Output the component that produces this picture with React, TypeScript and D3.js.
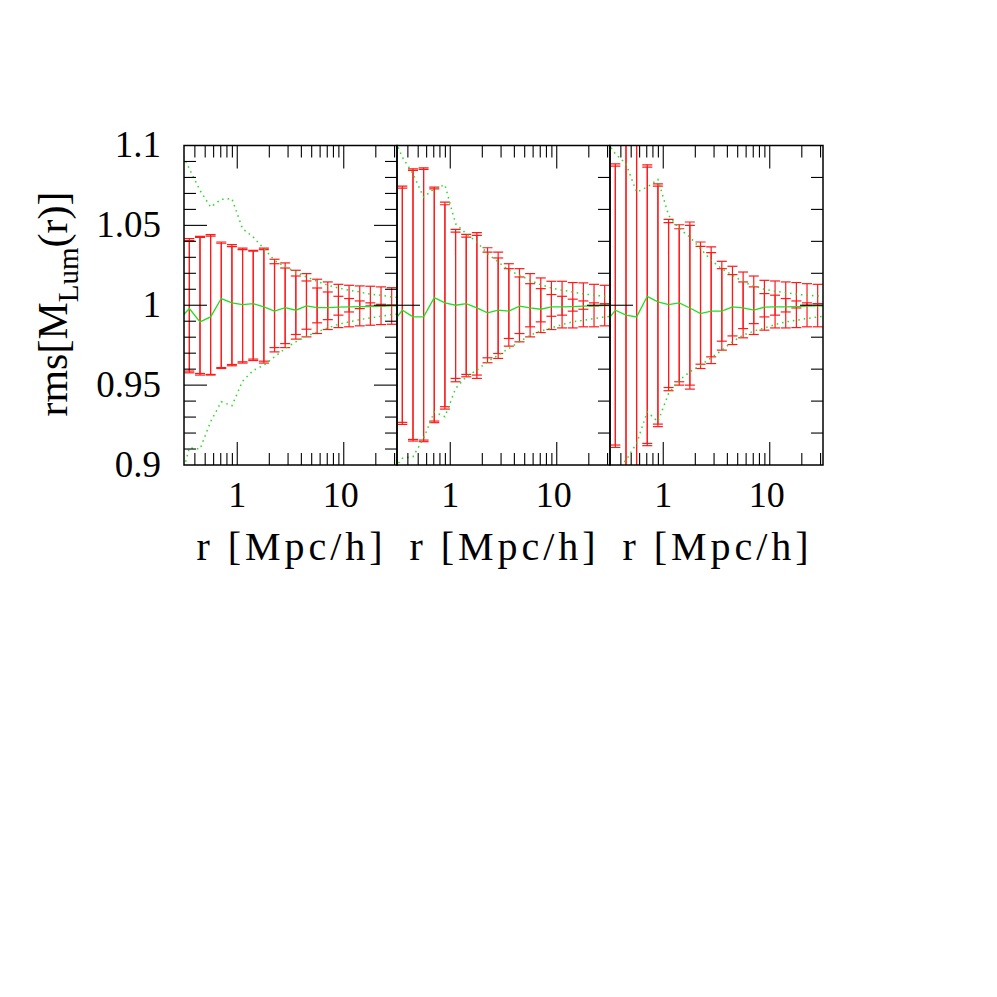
import React from "react";
import * as d3 from "d3";

// radial bins (Mpc/h)
const rBins = [0.355, 0.447, 0.562, 0.708, 0.891, 1.122, 1.413, 1.778, 2.239, 2.818, 3.548, 4.467, 5.623, 7.079, 8.913, 11.22, 14.13, 17.78, 22.39, 28.18];
const rCurve = [0.282, 0.355, 0.447, 0.562, 0.708, 0.891, 1.122, 1.413, 1.778, 2.239, 2.818, 3.548, 4.467, 5.623, 7.079, 8.913, 11.22, 14.13, 17.78, 22.39, 28.18, 35.48];

// ticks
const xMajorTicks = [1, 10];
const xMinorTicks = [0.4, 0.5, 0.6, 0.7, 0.8, 0.9, 2, 3, 4, 5, 6, 7, 8, 9, 20, 30];
const xTickLabels = ["1", "10"];
const yTickValues = [1.1, 1.05, 1, 0.95, 0.9];
const yTickLabels = ["1.1", "1.05", "1", "0.95", "0.9"];
const yMajorTicksA = [0.95, 1, 1.05];
const yMinorTicksA = [0.91, 0.92, 0.93, 0.94, 0.96, 0.97, 0.98, 0.99, 1.01, 1.02, 1.03, 1.04, 1.06, 1.07, 1.08, 1.09];
const yMajorTicksB = [1];
const yMinorTicksB = [0.92, 0.94, 0.96, 0.98, 1.02, 1.04, 1.06, 1.08];

// panel 1
const p1Mean = [0.9908, 0.9979, 0.9896, 0.9927, 1.0042, 1.0015, 1.0004, 1.001, 0.999, 0.9963, 0.9985, 0.9969, 0.9996, 0.9985, 0.9985, 0.9988, 0.999, 0.9992, 0.9992, 0.9994, 0.9996, 0.9996];
const p1DotHi = [1.0994, 1.0854, 1.0719, 1.0615, 1.0663, 1.0667, 1.0479, 1.0427, 1.0354, 1.0281, 1.024, 1.0208, 1.0177, 1.015, 1.0125, 1.0108, 1.0094, 1.0083, 1.0069, 1.0063, 1.0052, 1.0046];
const p1DotLo = [0.8854, 0.9108, 0.91, 0.9271, 0.9396, 0.9371, 0.9525, 0.9592, 0.9625, 0.9677, 0.9729, 0.9771, 0.9806, 0.9833, 0.9858, 0.9881, 0.9896, 0.991, 0.9921, 0.9931, 0.9942, 0.9948];
const p1OuterHi = [1.0417, 1.0431, 1.0442, 1.0396, 1.0379, 1.0358, 1.0344, 1.0358, 1.0288, 1.0265, 1.0219, 1.0198, 1.0163, 1.0146, 1.0131, 1.0125, 1.0121, 1.0119, 1.0115, 1.011];
const p1InnerHi = [1.0404, 1.0425, 1.0433, 1.0388, 1.0367, 1.0348, 1.0338, 1.0348, 1.026, 1.0233, 1.0183, 1.0152, 1.0108, 1.0083, 1.0056, 1.0042, 1.0027, 1.0015, 1.0006, 1.0];
const p1OuterLo = [0.9577, 0.9563, 0.9563, 0.9604, 0.9621, 0.9638, 0.9654, 0.9638, 0.9708, 0.9735, 0.9788, 0.9802, 0.9823, 0.9848, 0.986, 0.9865, 0.9871, 0.9875, 0.9879, 0.9881];
const p1InnerLo = [0.9588, 0.9573, 0.9567, 0.961, 0.9629, 0.9646, 0.9663, 0.965, 0.9735, 0.976, 0.9817, 0.985, 0.989, 0.991, 0.9938, 0.9958, 0.9979, 0.9996, 0.9996, 1.0];

// panel 2
const p2Mean = [0.9883, 0.9969, 0.9927, 0.9927, 1.0048, 1.0015, 1.0, 1.001, 0.9983, 0.9952, 0.9969, 0.9963, 0.9994, 0.9983, 0.9975, 0.999, 0.999, 0.9992, 0.9994, 0.9996, 0.9998, 0.9998];
const p2DotHi = [1.1083, 1.0927, 1.0823, 1.0677, 1.0729, 1.0754, 1.051, 1.0448, 1.0396, 1.0323, 1.0271, 1.0219, 1.0188, 1.0156, 1.0129, 1.0108, 1.0094, 1.0083, 1.0071, 1.0063, 1.0056, 1.005];
const p2DotLo = [0.8958, 0.9042, 0.9052, 0.9167, 0.9333, 0.9302, 0.9479, 0.9552, 0.9594, 0.9646, 0.9688, 0.9729, 0.9771, 0.9813, 0.9838, 0.9858, 0.9879, 0.9896, 0.9906, 0.9917, 0.9927, 0.9933];
const p2OuterHi = [1.0746, 1.0854, 1.086, 1.074, 1.0646, 1.0475, 1.0444, 1.0454, 1.036, 1.0333, 1.026, 1.0229, 1.0198, 1.0171, 1.015, 1.015, 1.0142, 1.014, 1.0131, 1.0125];
const p2InnerHi = [1.0733, 1.0844, 1.085, 1.0729, 1.0629, 1.0458, 1.0427, 1.0438, 1.0333, 1.0296, 1.0229, 1.0177, 1.0135, 1.0104, 1.0067, 1.0056, 1.0038, 1.0027, 1.0015, 1.001];
const p2OuterLo = [0.9254, 0.915, 0.9146, 0.9265, 0.935, 0.9521, 0.9552, 0.9542, 0.964, 0.9667, 0.9744, 0.9771, 0.9802, 0.9829, 0.9848, 0.9858, 0.9858, 0.9865, 0.9865, 0.9871];
const p2InnerLo = [0.9267, 0.916, 0.9156, 0.9275, 0.9365, 0.9542, 0.9567, 0.9563, 0.9671, 0.9698, 0.9792, 0.9823, 0.9865, 0.9896, 0.9931, 0.9938, 0.9963, 0.9975, 0.9996, 1.0];

// panel 3
const p3Mean = [0.9883, 0.9969, 0.9938, 0.9927, 1.0056, 1.0021, 1.0004, 1.0015, 0.9983, 0.9948, 0.9963, 0.9963, 0.999, 0.9983, 0.9969, 0.9988, 0.999, 0.999, 0.9992, 0.9994, 0.9996, 0.9996];
const p3DotHi = [1.1042, 1.0948, 1.0885, 1.0708, 1.074, 1.0788, 1.0563, 1.0479, 1.0427, 1.0354, 1.0281, 1.0229, 1.0188, 1.0146, 1.0121, 1.01, 1.0088, 1.0079, 1.0069, 1.0063, 1.0058, 1.0052];
const p3DotLo = [0.8854, 0.8958, 0.9031, 0.9135, 0.9333, 0.9271, 0.9448, 0.9531, 0.9583, 0.9625, 0.9671, 0.9719, 0.9771, 0.9813, 0.9838, 0.9858, 0.9879, 0.9896, 0.9906, 0.9917, 0.9927, 0.9933];
const p3OuterHi = [1.0885, 1.13, 1.13, 1.0879, 1.076, 1.0538, 1.0504, 1.0521, 1.0396, 1.0365, 1.0275, 1.0244, 1.0208, 1.0183, 1.0156, 1.0152, 1.0146, 1.0142, 1.0135, 1.0131];
const p3InnerHi = [1.0871, 1.13, 1.13, 1.0865, 1.0746, 1.0517, 1.0479, 1.05, 1.0369, 1.0329, 1.0229, 1.0192, 1.0146, 1.0115, 1.0073, 1.0063, 1.0042, 1.0027, 1.0015, 1.001];
const p3OuterLo = [0.911, 0.87, 0.87, 0.9121, 0.924, 0.9465, 0.95, 0.9475, 0.9604, 0.9635, 0.9719, 0.9754, 0.9796, 0.9817, 0.9844, 0.9858, 0.9858, 0.986, 0.9865, 0.9865];
const p3InnerLo = [0.9125, 0.87, 0.87, 0.9135, 0.9256, 0.9485, 0.9521, 0.95, 0.9631, 0.9677, 0.9775, 0.9808, 0.9854, 0.9885, 0.9927, 0.9938, 0.9958, 0.9983, 1.0, 1.001];

const panels = [
  { mean: p1Mean, dotHi: p1DotHi, dotLo: p1DotLo, bars: [[p1OuterLo, p1OuterHi], [p1InnerLo, p1InnerHi]], first: true },
  { mean: p2Mean, dotHi: p2DotHi, dotLo: p2DotLo, bars: [[p2OuterLo, p2OuterHi], [p2InnerLo, p2InnerHi]], first: false },
  { mean: p3Mean, dotHi: p3DotHi, dotLo: p3DotLo, bars: [[p3OuterLo, p3OuterHi], [p3InnerLo, p3InnerHi]], first: false },
];

const PX0 = 184;
const PW = 213;
const TOP = 145.5;
const BOT = 465;
const FONT = "'Liberation Serif', 'Times New Roman', serif";
const RED = "#ff1a1a";
const GREEN = "#22dd22";

export default function App() {
  const y = d3.scaleLinear().domain([0.9, 1.1]).range([BOT, TOP]);
  return (
    <svg width={997} height={997} style={{ position: "absolute", left: 0, top: 0, background: "#fff" }}>
      <defs>
        {panels.map((_, i) => (
          <clipPath id={`clip${i}`} key={i}>
            <rect x={PX0 + i * PW} y={TOP} width={PW} height={BOT - TOP} />
          </clipPath>
        ))}
      </defs>
      {panels.map((p, i) => {
        const x0 = PX0 + i * PW;
        const x = d3.scaleLog().domain([Math.pow(10, -0.5), Math.pow(10, 1.5)]).range([x0, x0 + PW]);
        const line = d3.line<number>().x((_, k) => x(rCurve[k])).y((d) => y(d));
        const yMaj = p.first ? yMajorTicksA : yMajorTicksB;
        const yMin = p.first ? yMinorTicksA : yMinorTicksB;
        return (
          <g key={i}>
            <g clipPath={`url(#clip${i})`}>
              {p.bars.map(([lo, hi], s) => (
                <g key={s} stroke={RED} strokeWidth={1.2} fill="none">
                  {rBins.map((r, k) => {
                    const cx = x(r);
                    return (
                      <g key={k}>
                        <line x1={cx} x2={cx} y1={y(lo[k])} y2={y(hi[k])} />
                        <line x1={cx - 5} x2={cx + 5} y1={y(lo[k])} y2={y(lo[k])} />
                        <line x1={cx - 5} x2={cx + 5} y1={y(hi[k])} y2={y(hi[k])} />
                      </g>
                    );
                  })}
                </g>
              ))}
              <path d={line(p.mean) || ""} stroke={GREEN} strokeWidth={1.3} fill="none" />
              <path d={line(p.dotHi) || ""} stroke={GREEN} strokeWidth={1.5} strokeDasharray="1.5,4" fill="none" />
              <path d={line(p.dotLo) || ""} stroke={GREEN} strokeWidth={1.5} strokeDasharray="1.5,4" fill="none" />
            </g>
            <g stroke="#000" strokeWidth={1.1}>
              {xMajorTicks.map((t) => (
                <g key={`M${t}`}>
                  <line x1={x(t)} x2={x(t)} y1={TOP} y2={TOP + 23} />
                  <line x1={x(t)} x2={x(t)} y1={BOT} y2={BOT - 23} />
                </g>
              ))}
              {xMinorTicks.map((t) => (
                <g key={`m${t}`}>
                  <line x1={x(t)} x2={x(t)} y1={TOP} y2={TOP + 12} />
                  <line x1={x(t)} x2={x(t)} y1={BOT} y2={BOT - 12} />
                </g>
              ))}
              {yMajorTicksA.filter((t) => p.first || yMajorTicksB.includes(t)).map((t) => (
                <line key={`lM${t}`} x1={x0} x2={x0 + 23} y1={y(t)} y2={y(t)} />
              ))}
              {p.first && yMinorTicksA.map((t) => (
                <line key={`lm${t}`} x1={x0} x2={x0 + 12} y1={y(t)} y2={y(t)} />
              ))}
              {yMaj.map((t) => (
                <line key={`rM${t}`} x1={x0 + PW} x2={x0 + PW - 23} y1={y(t)} y2={y(t)} />
              ))}
              {yMin.map((t) => (
                <line key={`rm${t}`} x1={x0 + PW} x2={x0 + PW - 12} y1={y(t)} y2={y(t)} />
              ))}
            </g>
            <rect x={x0} y={TOP} width={PW} height={BOT - TOP} fill="none" stroke="#000" strokeWidth={1.5} />
            {xMajorTicks.map((t, k) => (
              <text key={`xl${t}`} x={x(t) - (k === 1 ? 3 : 0)} y={507} textAnchor="middle" fontFamily={FONT} fontSize={36}>
                {xTickLabels[k]}
              </text>
            ))}
            <text x={x0 + PW / 2 - 1} y={560} textAnchor="middle" fontFamily={FONT} fontSize={40} textLength={186} lengthAdjust="spacing">
              r [Mpc/h]
            </text>
          </g>
        );
      })}
      {yTickValues.map((v, k) => (
        <text key={`yl${v}`} x={161} y={y(v) + 11.5} textAnchor="end" fontFamily={FONT} fontSize={37}>
          {yTickLabels[k]}
        </text>
      ))}
      <text transform="translate(67,304) rotate(-90)" textAnchor="middle" fontFamily={FONT} fontSize={42}>
        rms[M<tspan fontSize={29} dy={11}>Lum</tspan><tspan dy={-11}>(r)]</tspan>
      </text>
    </svg>
  );
}
